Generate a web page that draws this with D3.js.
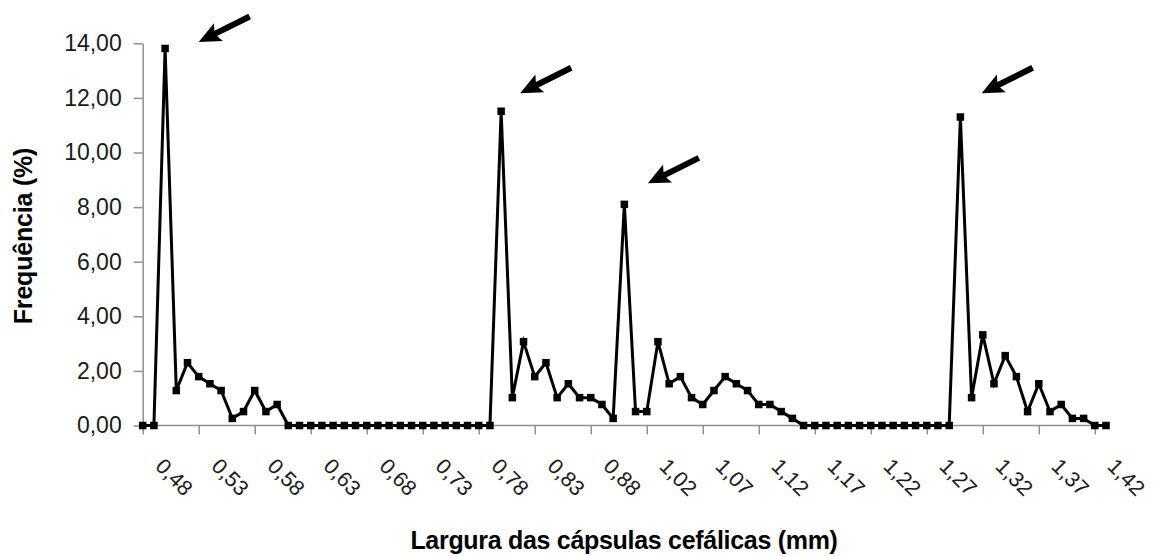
<!DOCTYPE html>
<html>
<head>
<meta charset="utf-8">
<script src="https://cdn.jsdelivr.net/npm/d3@7"></script>
<style>
  body { margin: 0; background: #fff; }
  svg { font-family: "Liberation Sans", Arial, sans-serif; }
</style>
</head>
<body>
<div id="chart"></div>
<script>
// categories (head capsule width, mm) as printed on the axis
const categories = [
  "0,48","0,49","0,50","0,51","0,52","0,53","0,54","0,55","0,56","0,57",
  "0,58","0,59","0,60","0,61","0,62","0,63","0,64","0,65","0,66","0,67",
  "0,68","0,69","0,70","0,71","0,72","0,73","0,74","0,75","0,76","0,77",
  "0,78","0,79","0,80","0,81","0,82","0,83","0,84","0,85","0,86","0,87",
  "0,88","0,89","0,90","0,91","1,01",
  "1,02","1,03","1,04","1,05","1,06","1,07","1,08","1,09","1,10","1,11",
  "1,12","1,13","1,14","1,15","1,16","1,17","1,18","1,19","1,20","1,21",
  "1,22","1,23","1,24","1,25","1,26","1,27","1,28","1,29","1,30","1,31",
  "1,32","1,33","1,34","1,35","1,36","1,37","1,38","1,39","1,40","1,41",
  "1,42","1,43"
];

// frequency (%)
const freq = [
  0, 0, 13.81, 1.28, 2.30, 1.79, 1.53, 1.28, 0.26, 0.51, 1.28, 0.51, 0.77, 0,
  0, 0, 0, 0, 0, 0, 0, 0, 0, 0, 0, 0, 0, 0, 0, 0, 0, 0,
  11.51, 1.02, 3.07, 1.79, 2.30, 1.02, 1.53, 1.02, 1.02, 0.77, 0.26,
  8.10, 0.51, 0.51, 3.07, 1.53, 1.79, 1.02, 0.77, 1.28, 1.79, 1.53, 1.28, 0.77, 0.77, 0.51, 0.26,
  0, 0, 0, 0, 0, 0, 0, 0, 0, 0, 0, 0, 0, 0,
  11.30, 1.02, 3.32, 1.53, 2.56, 1.79, 0.51, 1.53, 0.51, 0.77, 0.26, 0.26, 0, 0
];

// labelled ticks on the x axis
const xTickLabels = ["0,48","0,53","0,58","0,63","0,68","0,73","0,78","0,83","0,88",
  "1,02","1,07","1,12","1,17","1,22","1,27","1,32","1,37","1,42"];
const yTicks = [0, 2, 4, 6, 8, 10, 12, 14];

// arrows pointing at the peaks: tip position (category index, value)
const arrowAt = [5.0, 33.7, 45.1, 74.9];
const arrowVal = [14.05, 12.17, 8.87, 12.17];

const width = 1154, height = 556;
const margin = { top: 43.3, bottom: 130.5, left: 142.7, right: 48 };

const data = categories.map((c, i) => ({ c: c, v: freq[i] }));

const x = d3.scalePoint()
  .domain(categories)
  .range([margin.left, width - margin.right]);
const xi = d3.scaleLinear()
  .domain([0, categories.length - 1])
  .range(x.range());
const y = d3.scaleLinear()
  .domain([0, 14])
  .range([height - margin.bottom, margin.top]);

const svg = d3.select("#chart")
  .append("svg")
  .attr("width", width)
  .attr("height", height)
  .attr("viewBox", [0, 0, width, height]);

svg.append("rect").attr("width", width).attr("height", height).attr("fill", "#fff");

const axisColor = "#8f8f8f";

// y axis
const gy = svg.append("g")
  .attr("transform", `translate(${margin.left},0)`)
  .call(d3.axisLeft(y)
    .tickValues(yTicks)
    .tickFormat(d => d3.format(".2f")(d).replace(".", ","))
    .tickSize(9)
    .tickSizeOuter(0)
    .tickPadding(12));
gy.select(".domain").attr("stroke", axisColor).attr("stroke-width", 1.5);
gy.selectAll(".tick line").attr("stroke", axisColor).attr("stroke-width", 1.5);
gy.selectAll(".tick text").attr("font-size", "23px").attr("fill", "#1a1a1a");

// x axis
const gx = svg.append("g")
  .attr("transform", `translate(0,${y(0)})`)
  .call(d3.axisBottom(x)
    .tickValues(xTickLabels)
    .tickSize(9)
    .tickSizeOuter(0));
gx.select(".domain").attr("stroke", axisColor).attr("stroke-width", 1.5)
  .attr("d", `M${margin.left},0H${x(categories[categories.length - 1]) + 4}`);
gx.selectAll(".tick line").attr("stroke", axisColor).attr("stroke-width", 1.5);
gx.selectAll(".tick text")
  .attr("font-size", "21.5px")
  .attr("fill", "#1a1a1a")
  .attr("y", 0).attr("dy", 0)
  .attr("text-anchor", "start")
  .attr("transform", "translate(11,42) rotate(45)");

// line + square markers
const line = d3.line().x(d => x(d.c)).y(d => y(d.v));
svg.append("path")
  .datum(data)
  .attr("fill", "none")
  .attr("stroke", "#000")
  .attr("stroke-width", 3)
  .attr("stroke-linejoin", "miter")
  .attr("d", line);

svg.append("g")
  .selectAll("rect")
  .data(data)
  .join("rect")
  .attr("x", d => x(d.c) - 3.75)
  .attr("y", d => y(d.v) - 3.75)
  .attr("width", 7.5)
  .attr("height", 7.5)
  .attr("fill", "#000");

// arrows
const ang = Math.atan2(-25, 50) * 180 / Math.PI;
svg.append("g")
  .selectAll("path")
  .data(arrowAt)
  .join("path")
  .attr("transform", (d, i) => `translate(${xi(d)},${y(arrowVal[i])}) rotate(${ang})`)
  .attr("d", "M0,0L22,-10L19,-3L57,-3L57,3L19,3L22,10Z")
  .attr("fill", "#000");

// axis titles
svg.append("text")
  .attr("transform", "translate(32,236) rotate(-90)")
  .attr("text-anchor", "middle")
  .attr("font-size", "25px")
  .attr("font-weight", "bold")
  .attr("letter-spacing", "-0.2px")
  .text("Frequência (%)");

svg.append("text")
  .attr("x", 624)
  .attr("y", 549)
  .attr("text-anchor", "middle")
  .attr("font-size", "25px")
  .attr("font-weight", "bold")
  .attr("letter-spacing", "-0.3px")
  .text("Largura das cápsulas cefálicas (mm)");
</script>
</body>
</html>
